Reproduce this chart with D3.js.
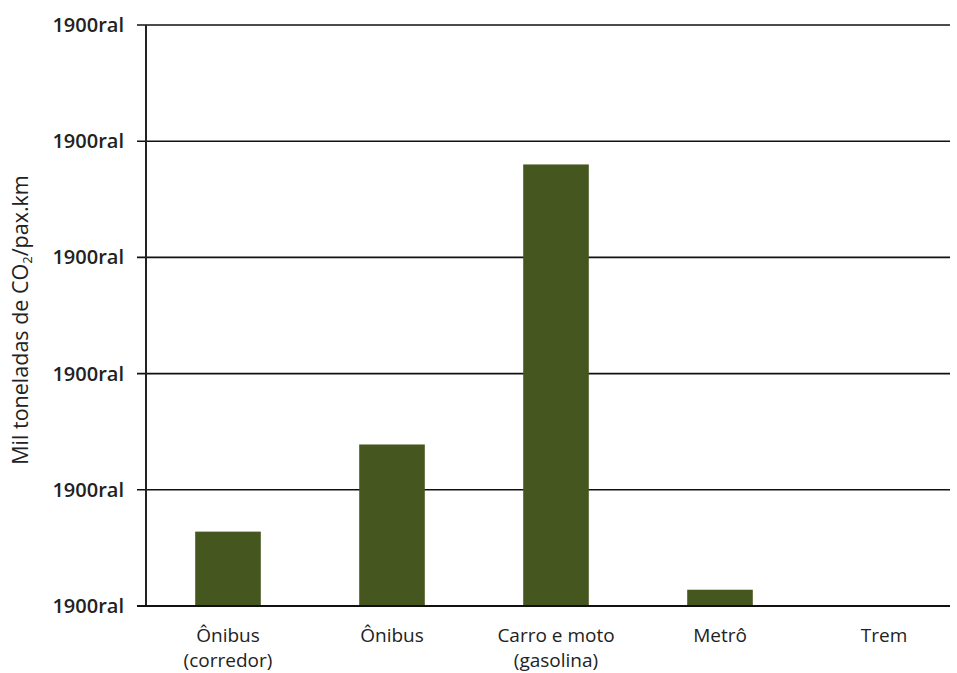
<!DOCTYPE html>
<html>
<head>
<meta charset="utf-8">
<script src="https://cdn.jsdelivr.net/npm/d3@7"></script>
<style>
  body { margin: 0; background: #fff; }
  text { font-family: "Open Sans", "DejaVu Sans", sans-serif; fill: #222; }
</style>
</head>
<body>
<svg width="957" height="673"></svg>
<script>
  // categories (two lines each) and values in gridline units
  var categories = [['Ônibus', '(corredor)'], ['Ônibus'], ['Carro e moto', '(gasolina)'], ['Metrô'], ['Trem']];
  var values = [0.64, 1.39, 3.80, 0.14, 0];
  var tickValues = [0, 1, 2, 3, 4, 5];
  var tickLabels = ['1900ral', '1900ral', '1900ral', '1900ral', '1900ral', '1900ral'];

  var svg = d3.select('svg');
  var x0 = 146, yTop = 25, yBottom = 606, gridEnd = 950;

  var x = d3.scaleBand().domain(d3.range(categories.length)).range([x0, x0 + 164 * 5]).paddingInner(0.6).paddingOuter(0.3);
  var y = d3.scaleLinear().domain([0, 5]).range([yBottom, yTop]);

  // gridlines + ticks
  svg.append('g').selectAll('line').data(tickValues).enter().append('line')
    .attr('x1', x0 - 9).attr('x2', gridEnd)
    .attr('y1', function (d) { return y(d); }).attr('y2', function (d) { return y(d); })
    .attr('stroke', '#111').attr('stroke-width', 1.6);

  svg.append('g').selectAll('text').data(tickValues).enter().append('text')
    .attr('x', 124).attr('y', function (d) { return y(d) + 7; })
    .attr('text-anchor', 'end')
    .style('font-size', '20px').style('font-weight', 600)
    .text(function (d, i) { return tickLabels[i]; });

  // bars
  svg.append('g').selectAll('rect').data(values).enter().append('rect')
    .attr('x', function (d, i) { return x(i); })
    .attr('width', x.bandwidth())
    .attr('y', function (d) { return y(d); })
    .attr('height', function (d) { return yBottom - y(d); })
    .attr('fill', '#46561f');

  // vertical axis line and baseline
  svg.append('line').attr('x1', x0).attr('x2', x0).attr('y1', yTop).attr('y2', yBottom + 1)
    .attr('stroke', '#222').attr('stroke-width', 2);
  svg.append('line').attr('x1', x0 - 9).attr('x2', gridEnd).attr('y1', yBottom).attr('y2', yBottom)
    .attr('stroke', '#111').attr('stroke-width', 2.2);

  // category labels, one text per line
  var lines = [];
  categories.forEach(function (c, i) {
    c.forEach(function (t, j) { lines.push({ i: i, j: j, t: t }); });
  });
  svg.append('g').selectAll('text').data(lines).enter().append('text')
    .attr('text-anchor', 'middle')
    .style('font-size', '19px').style('font-weight', 500)
    .attr('x', function (d) { return x(d.i) + x.bandwidth() / 2; })
    .attr('y', function (d) { return 642 + d.j * 25; })
    .text(function (d) { return d.t; });

  // y axis title
  var yt = svg.append('text')
    .attr('transform', 'translate(28,320) rotate(-90)')
    .attr('text-anchor', 'middle')
    .style('font-size', '21.5px');
  yt.append('tspan').text('Mil toneladas de CO');
  yt.append('tspan').attr('dy', 4).style('font-size', '13px').text('2');
  yt.append('tspan').attr('dy', -4).text('/pax.km');
</script>
</body>
</html>
